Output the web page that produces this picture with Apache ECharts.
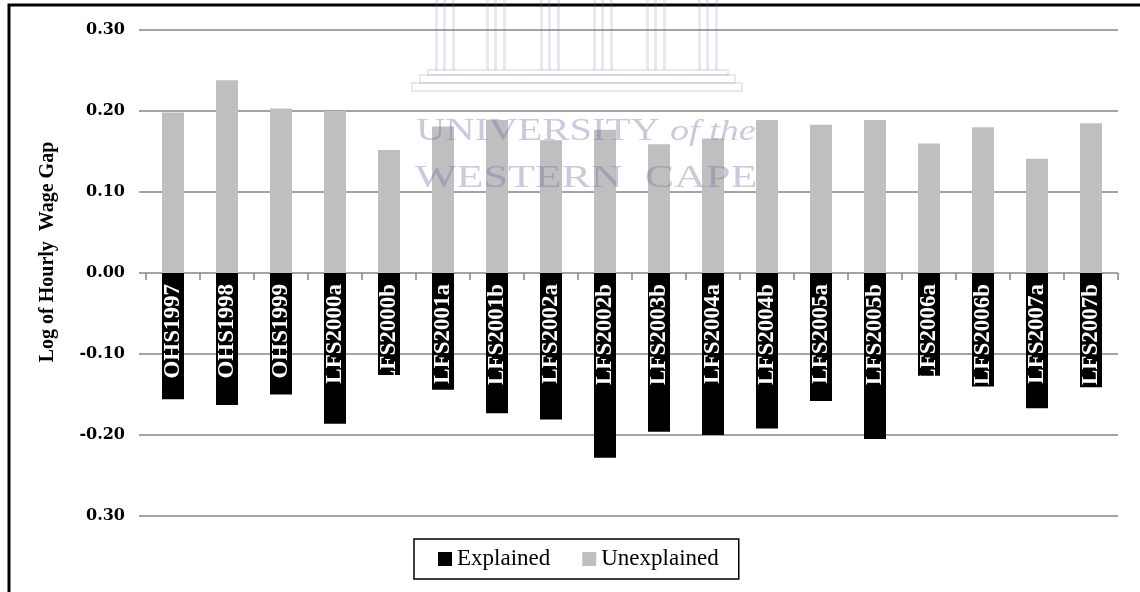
<!DOCTYPE html>
<html>
<head>
<meta charset="utf-8">
<title>Log of Hourly Wage Gap decomposition</title>
<script src="https://cdn.jsdelivr.net/npm/echarts@6/dist/echarts.min.js"></script>
<style>
  html, body { margin: 0; padding: 0; background: #ffffff; }
  #chart { width: 1140px; height: 592px; }
</style>
</head>
<body>
<div id="chart"></div>
<script>
// Survey waves (October Household Survey / Labour Force Survey)
const categories = [
  'OHS1997', 'OHS1998', 'OHS1999', 'LFS2000a', 'LFS2000b', 'LFS2001a',
  'LFS2001b', 'LFS2002a', 'LFS2002b', 'LFS2003b', 'LFS2004a', 'LFS2004b',
  'LFS2005a', 'LFS2005b', 'LFS2006a', 'LFS2006b', 'LFS2007a', 'LFS2007b'
];

// Explained component (drawn below zero)
const explained = [
  -0.156, -0.163, -0.150, -0.186, -0.126, -0.144,
  -0.173, -0.181, -0.228, -0.196, -0.200, -0.192,
  -0.158, -0.205, -0.127, -0.140, -0.167, -0.141
];

// Unexplained component (drawn above zero)
const unexplained = [
  0.198, 0.238, 0.203, 0.200, 0.152, 0.181,
  0.189, 0.164, 0.177, 0.159, 0.166, 0.189,
  0.183, 0.189, 0.160, 0.180, 0.141, 0.185
];

// Value-axis tick labels, bottom to top
const yTickValues = [-0.3, -0.2, -0.1, 0, 0.1, 0.2, 0.3];
const yTickLabels = ['0.30', '-0.20', '-0.10', '0.00', '0.10', '0.20', '0.30'];

const seriesNames = ['Explained', 'Unexplained'];

const chart = echarts.init(document.getElementById('chart'), null, { renderer: 'canvas' });

const GRID_GREY = '#868686';
const MARK = 'rgba(109,109,163,0.36)';
const MARK_LIGHT = 'rgba(109,109,163,0.16)';

// Plot box
const GRID_TOP = 30, GRID_BOTTOM = 76;
const PLOT_H = 592 - GRID_TOP - GRID_BOTTOM;
const Y_MIN = -0.3, Y_MAX = 0.3;
// shift the category axis from the bottom edge up to the zero line
const ZERO_SHIFT = -PLOT_H * (0 - Y_MIN) / (Y_MAX - Y_MIN);

// Crest elements: six pillars standing on three steps
const pillarLefts = [435, 486, 540, 593, 646, 698];
const crest = [];
pillarLefts.forEach(function (x0) {
  [0, 8, 17].forEach(function (dx) {
    crest.push({
      type: 'rect',
      shape: { x: x0 + dx, y: 0, width: 3, height: 70 },
      style: { fill: MARK_LIGHT },
      z: 100, silent: true
    });
  });
});
[[428, 70, 300, 5], [420, 75, 315, 8], [412, 83, 330, 8]].forEach(function (s) {
  crest.push({
    type: 'rect',
    shape: { x: s[0], y: s[1], width: s[2], height: s[3] },
    style: { fill: 'none', stroke: MARK_LIGHT, lineWidth: 2 },
    z: 100, silent: true
  });
});

const option = {
  backgroundColor: '#ffffff',
  animation: false,
  grid: {
    left: 146, right: 22, top: GRID_TOP, bottom: GRID_BOTTOM,
    containLabel: false,
    outerBoundsMode: 'none'
  },
  legend: {
    data: seriesNames,
    left: 414,
    top: 539,
    orient: 'horizontal',
    icon: 'rect',
    itemWidth: 14,
    itemHeight: 14,
    itemGap: 32,
    padding: [8, 20, 8, 24],
    borderColor: '#000000',
    borderWidth: 1.5,
    textStyle: {
      fontFamily: 'Liberation Serif',
      fontSize: 23,
      lineHeight: 24,
      color: '#000000'
    }
  },
  xAxis: {
    type: 'category',
    data: categories,
    position: 'bottom',
    offset: ZERO_SHIFT,
    z: 10,
    // the zero line itself comes from the value-axis grid
    axisLine: { show: false, onZero: false },
    axisTick: {
      show: true,
      length: 7,
      inside: false,
      lineStyle: { color: GRID_GREY, width: 1.5 }
    },
    axisLabel: {
      rotate: 90,
      interval: 0,
      margin: 11,
      color: '#ffffff',
      fontFamily: 'Liberation Serif',
      fontWeight: 'bold',
      fontSize: 23
    },
    splitLine: { show: false }
  },
  yAxis: {
    type: 'value',
    min: Y_MIN,
    max: Y_MAX,
    interval: 0.1,
    name: 'Log of Hourly  Wage Gap',
    nameLocation: 'middle',
    nameGap: 88,
    nameTextStyle: {
      fontFamily: 'Liberation Serif',
      fontWeight: 'bold',
      fontSize: 20,
      color: '#000000',
      padding: [0, 0, 0, 42]
    },
    axisLine: { show: false },
    axisTick: {
      show: true,
      length: 7,
      lineStyle: { color: GRID_GREY, width: 1.5 }
    },
    axisLabel: {
      margin: 21,
      color: '#000000',
      fontFamily: 'DejaVu Serif',
      fontWeight: 'bold',
      fontSize: 16,
      formatter: function (v) {
        const i = yTickValues.findIndex(function (t) { return Math.abs(t - v) < 1e-6; });
        return i >= 0 ? yTickLabels[i] : '';
      }
    },
    splitLine: { show: true, lineStyle: { color: GRID_GREY, width: 1.5 } }
  },
  series: [
    {
      name: seriesNames[0],
      type: 'bar',
      data: explained,
      barWidth: 22,
      barGap: '-100%',
      itemStyle: { color: '#000000' },
      z: 2
    },
    {
      name: seriesNames[1],
      type: 'bar',
      data: unexplained,
      barWidth: 22,
      barGap: '-100%',
      itemStyle: { color: '#bfbfbf' },
      z: 2
    }
  ],
  graphic: [
    // outer frame of the figure
    {
      type: 'rect',
      shape: { x: 9, y: 5, width: 1200, height: 700 },
      style: { fill: 'none', stroke: '#000000', lineWidth: 3 },
      z: 50, silent: true
    },
    {
      type: 'text',
      left: 416, top: 116,
      scaleX: 1.27,
      style: {
        text: 'UNIVERSITY {i|of the}',
        fill: MARK,
        font: '32px "Liberation Serif"',
        rich: { i: { fontStyle: 'italic', fontSize: 30, fill: MARK, fontFamily: 'Liberation Serif' } }
      },
      z: 100, silent: true
    },
    {
      type: 'text',
      left: 415, top: 163,
      scaleX: 1.42,
      style: {
        text: 'WESTERN  CAPE',
        fill: MARK,
        font: '31px "Liberation Serif"'
      },
      z: 100, silent: true
    }
  ].concat(crest)
};

chart.setOption(option);
</script>
</body>
</html>
